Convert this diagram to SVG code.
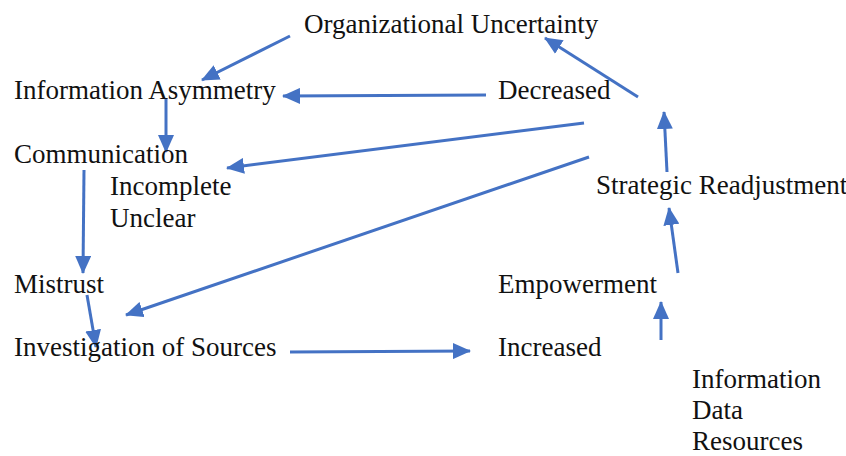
<svg xmlns="http://www.w3.org/2000/svg" width="846" height="456" viewBox="0 0 846 456">
<style>
text{font-family:"Liberation Serif","Times New Roman",serif;font-size:27px;fill:#111}
.c line{stroke:#4472C4;stroke-width:3;fill:none}
</style>
<defs>
<marker id="ah" markerUnits="userSpaceOnUse" markerWidth="18" markerHeight="16" refX="17" refY="8" orient="auto">
<path d="M0,0 L18,8 L0,16 Z" fill="#4472C4"/>
</marker>
</defs>
<rect width="846" height="456" fill="#fff"/>
<g class="c" id="connectors">
<line x1="290" y1="36" x2="202" y2="80" marker-end="url(#ah)"/>
<line x1="486" y1="95" x2="283" y2="96" marker-end="url(#ah)"/>
<line x1="166" y1="98" x2="166" y2="152" marker-end="url(#ah)"/>
<line x1="584" y1="123" x2="227" y2="168" marker-end="url(#ah)"/>
<line x1="589" y1="157" x2="126" y2="315" marker-end="url(#ah)"/>
<line x1="84" y1="170" x2="83" y2="273" marker-end="url(#ah)"/>
<line x1="87" y1="295" x2="96" y2="347" marker-end="url(#ah)"/>
<line x1="290" y1="352" x2="470" y2="351" marker-end="url(#ah)"/>
<line x1="661" y1="340" x2="661" y2="302" marker-end="url(#ah)"/>
<line x1="678" y1="273" x2="669" y2="208" marker-end="url(#ah)"/>
<line x1="667" y1="172" x2="664" y2="112" marker-end="url(#ah)"/>
<line x1="638" y1="97" x2="545" y2="38" marker-end="url(#ah)"/>
</g>
<g id="org"><text x="304" y="33">Organizational Uncertainty</text></g>
<g id="infoasym"><text x="14" y="99">Information Asymmetry</text></g>
<g id="decreased"><text x="498" y="99">Decreased</text></g>
<g id="communication"><text x="14" y="163">Communication</text></g>
<g id="incomplete"><text x="110" y="195">Incomplete</text><text x="110" y="227">Unclear</text></g>
<g id="strategic"><text x="596" y="194">Strategic Readjustment</text></g>
<g id="mistrust"><text x="14" y="293">Mistrust</text></g>
<g id="empowerment"><text x="498" y="293">Empowerment</text></g>
<g id="investigation"><text x="14" y="356">Investigation of Sources</text></g>
<g id="increased"><text x="498" y="356">Increased</text></g>
<g id="resources"><text x="692" y="388">Information</text><text x="692" y="419">Data</text><text x="692" y="450">Resources</text></g>
</svg>
